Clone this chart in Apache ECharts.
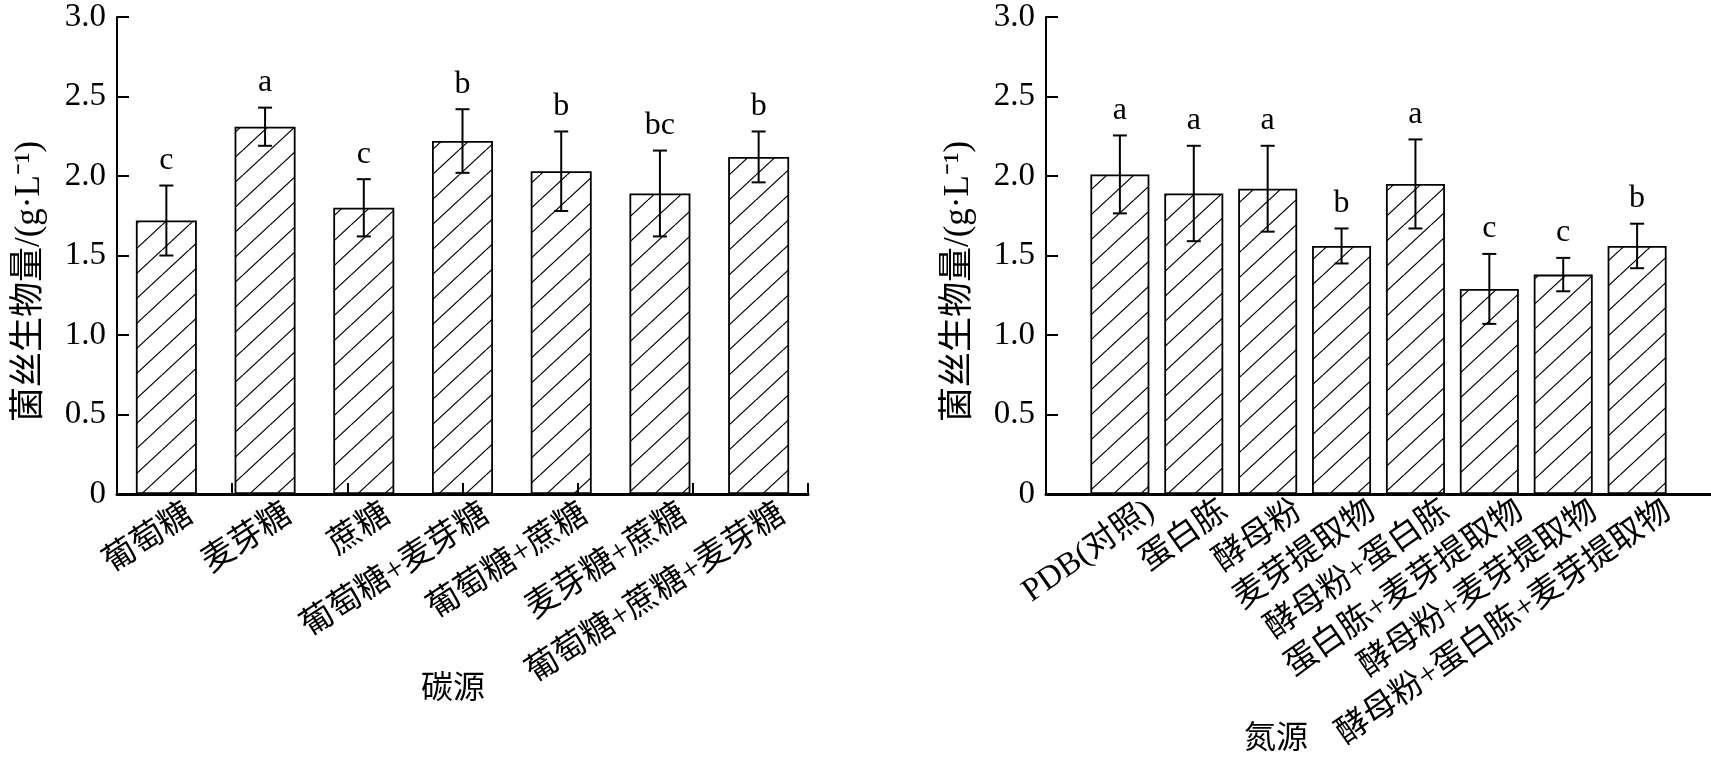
<!DOCTYPE html>
<html><head><meta charset="utf-8">
<script src="https://cdn.jsdelivr.net/npm/echarts@6/dist/echarts.min.js"></script>
<style>html,body{margin:0;padding:0;background:#fff;} #c{width:1711px;height:762px;}</style>
</head><body><div id="c"></div>
<script>
// ---- data ----
const carbonCats = ['葡萄糖','麦芽糖','蔗糖','葡萄糖+麦芽糖','葡萄糖+蔗糖','麦芽糖+蔗糖','葡萄糖+蔗糖+麦芽糖'];
const carbonMean = [1.72, 2.31, 1.80, 2.22, 2.03, 1.89, 2.12];
const carbonErr  = [0.22, 0.12, 0.18, 0.20, 0.25, 0.27, 0.16];
const carbonSig  = ['c','a','c','b','b','bc','b'];

const nitroCats = ['PDB(对照)','蛋白胨','酵母粉','麦芽提取物','酵母粉+蛋白胨','蛋白胨+麦芽提取物','酵母粉+麦芽提取物','酵母粉+蛋白胨+麦芽提取物'];
const nitroMean = [2.01, 1.89, 1.92, 1.56, 1.95, 1.29, 1.38, 1.56];
const nitroErr  = [0.245, 0.30, 0.27, 0.11, 0.28, 0.22, 0.105, 0.14];
const nitroSig  = ['a','a','a','b','a','c','c','b'];

const yName = '菌丝生物量/(g·L⁻¹)';
const xNames = ['碳源', '氮源'];

// ---- styling helpers ----
const SERIF = '"Liberation Serif","Noto Sans CJK SC"';
function hatch() {
  const w = 27, h = 25;
  const c = document.createElement('canvas');
  c.width = w; c.height = h;
  const g = c.getContext('2d');
  g.fillStyle = '#fff'; g.fillRect(0, 0, w, h);
  g.strokeStyle = '#000'; g.lineWidth = 1.2;
  for (let k = -1; k <= 1; k++) {
    g.beginPath(); g.moveTo(k * w, h); g.lineTo(k * w + w, 0); g.stroke();
  }
  return c;
}
const pat = { image: hatch(), repeat: 'repeat' };

function yAxisDef(gi) {
  return {
    type: 'value', gridIndex: gi, min: 0, max: 3, interval: 0.5, z: 4,
    axisLine: { show: true, onZero: false, lineStyle: { color: '#000', width: 2 } },
    axisTick: { show: true, inside: true, length: 12, lineStyle: { color: '#000', width: 2 } },
    splitLine: { show: false },
    axisLabel: { formatter: v => v === 0 ? '0' : v.toFixed(1), fontSize: 33, fontFamily: SERIF, color: '#000', margin: 11 },
    name: yName, nameLocation: 'middle', nameGap: 70,
    nameTextStyle: { fontSize: 35, fontFamily: SERIF, color: '#000', padding: [0, 52, 0, 0] }
  };
}
function xAxisDef(gi, cats, min, max, labelShift, rot, ticks, margin) {
  return {
    type: 'value', gridIndex: gi, min: min, max: max, z: 4,
    axisLine: { show: true, onZero: false, lineStyle: { color: '#000', width: 3 } },
    splitLine: { show: false },
    axisTick: ticks ? { show: true, inside: true, length: 11, customValues: ticks, lineStyle: { color: '#000', width: 2 } } : { show: false },
    axisLabel: {
      customValues: cats.map((_, i) => i + labelShift),
      formatter: v => cats[Math.round(v - labelShift)] || '',
      rotate: rot, margin: margin, fontSize: 33, fontFamily: SERIF, color: '#000'
    }
  };
}
function barSeries(gi, means) {
  return {
    type: 'bar', xAxisIndex: gi, yAxisIndex: gi, silent: true,
    data: means.map((v, i) => [i, v]), barWidth: gi === 0 ? 61 : 59,
    itemStyle: { color: pat, borderColor: '#000', borderWidth: 1.8 }
  };
}
function errSeries(gi, means, errs, sigs) {
  return {
    type: 'custom', xAxisIndex: gi, yAxisIndex: gi, silent: true, z: 5,
    data: means.map((m, i) => [i, m - errs[i], m + errs[i]]),
    encode: { x: 0, y: [1, 2] },
    renderItem(params, api) {
      const x = api.value(0);
      const lo = api.coord([x, api.value(1)]);
      const hi = api.coord([x, api.value(2)]);
      const cw = 7, st = { stroke: '#000', lineWidth: 2 };
      return { type: 'group', children: [
        { type: 'line', shape: { x1: lo[0], y1: lo[1], x2: hi[0], y2: hi[1] }, style: st },
        { type: 'line', shape: { x1: hi[0] - cw, y1: hi[1], x2: hi[0] + cw, y2: hi[1] }, style: st },
        { type: 'line', shape: { x1: lo[0] - cw, y1: lo[1], x2: lo[0] + cw, y2: lo[1] }, style: st },
        { type: 'text', x: hi[0], y: hi[1] - 9, style: { text: sigs[params.dataIndex], fill: '#000',
          font: '32px ' + SERIF, align: 'center', verticalAlign: 'bottom' } }
      ]};
    }
  };
}

const leftTicks = [1, 2, 3, 4, 5, 6].map(k => -0.5 + 7 * k / 6);

const chart = echarts.init(document.getElementById('c'), null, { renderer: 'canvas' });
chart.setOption({
  animation: false,
  backgroundColor: '#fff',
  grid: [
    { left: 117, top: 17, width: 691, height: 477 },
    { left: 1046, top: 17, width: 687, height: 477 }
  ],
  xAxis: [
    xAxisDef(0, carbonCats, -0.5, 6.5, 0.24, 33, leftTicks, 18),
    xAxisDef(1, nitroCats, -1, 8, 0.42, 35, null, 14)
  ],
  yAxis: [yAxisDef(0), yAxisDef(1)],
  series: [
    barSeries(0, carbonMean), errSeries(0, carbonMean, carbonErr, carbonSig),
    barSeries(1, nitroMean), errSeries(1, nitroMean, nitroErr, nitroSig)
  ],
  graphic: [
    { type: 'text', x: 453, y: 690, style: { text: xNames[0], font: '32px ' + SERIF, fill: '#000', align: 'center', verticalAlign: 'middle' } },
    { type: 'text', x: 1276, y: 740, style: { text: xNames[1], font: '32px ' + SERIF, fill: '#000', align: 'center', verticalAlign: 'middle' } }
  ]
});
</script>
</body></html>
